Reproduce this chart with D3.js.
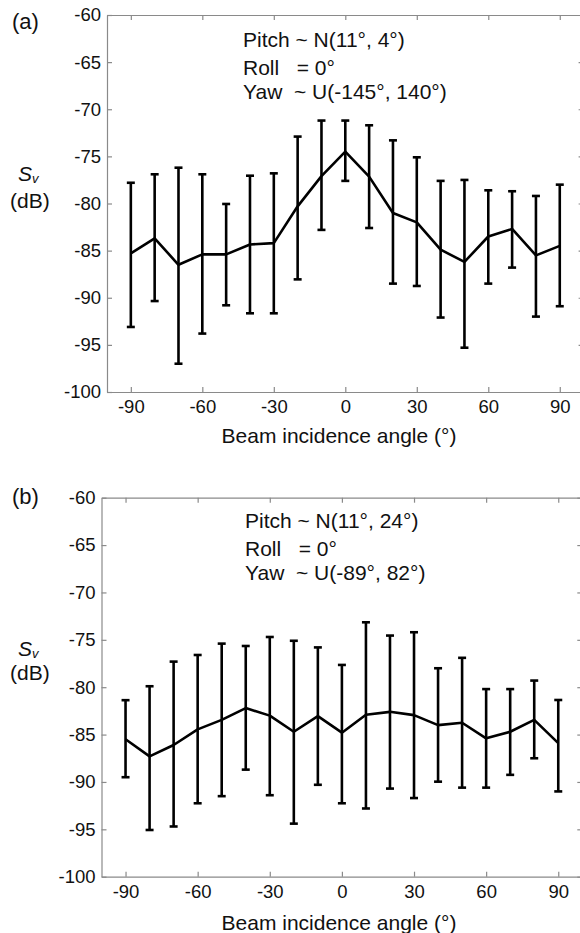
<!DOCTYPE html>
<html>
<head>
<meta charset="utf-8">
<script src="https://cdn.jsdelivr.net/npm/d3@7"></script>
<style>
  body { margin: 0; background: #fff; }
  svg { display: block; font-family: "Liberation Sans", Arial, sans-serif; }
  .legend text { white-space: pre; }
</style>
</head>
<body>
<div id="chart"></div>
<script>
// Beam incidence angles (degrees)
var angles = [-90, -80, -70, -60, -50, -40, -30, -20, -10, 0, 10, 20, 30, 40, 50, 60, 70, 80, 90];
var xTicks = [-90, -60, -30, 0, 30, 60, 90];
var yTicks = [-100, -95, -90, -85, -80, -75, -70, -65, -60];

// panel (a): Sv mean and error bar ends (dB)
var svA     = [-85.3, -83.7, -86.5, -85.4, -85.4, -84.35, -84.2, -80.3, -77.1, -74.5, -77.15, -81.0, -82.0, -84.9, -86.2, -83.5, -82.7, -85.5, -84.5];
var svAHigh = [-77.8, -76.9, -76.2, -76.9, -80.05, -77.05, -76.8, -72.9, -71.2, -71.2, -71.7, -73.3, -75.1, -77.6, -77.5, -78.6, -78.7, -79.2, -78.0];
var svALow  = [-93.1, -90.35, -97.0, -93.8, -90.8, -91.65, -91.65, -88.05, -82.8, -77.6, -82.6, -88.5, -88.75, -92.1, -95.3, -88.5, -86.8, -92.0, -90.9];

// panel (b)
var svB     = [-85.5, -87.3, -86.1, -84.45, -83.45, -82.2, -83.0, -84.7, -83.05, -84.8, -82.9, -82.6, -82.95, -84.0, -83.75, -85.4, -84.7, -83.45, -85.9];
var svBHigh = [-81.37, -79.9, -77.3, -76.6, -75.4, -75.65, -74.7, -75.1, -75.8, -77.65, -73.15, -74.55, -74.2, -78.0, -76.9, -80.2, -80.2, -79.3, -81.35];
var svBLow  = [-89.5, -95.07, -94.7, -92.25, -91.5, -88.7, -91.4, -94.4, -90.3, -92.25, -92.8, -90.7, -91.7, -89.97, -90.6, -90.6, -89.25, -87.5, -91.0];

var legendA = ["Pitch ~ N(11°, 4°)", "Roll   = 0°", "Yaw  ~ U(-145°, 140°)"];
var legendB = ["Pitch ~ N(11°, 24°)", "Roll   = 0°", "Yaw  ~ U(-89°, 82°)"];

var w = 580, h = 933;

var svg = d3.select("#chart").append("svg")
    .attr("width", w)
    .attr("height", h);

svg.append("rect").attr("width", w).attr("height", h).attr("fill", "#fff");

// plain hyphen for negatives, like the original
var fmt = d => String(d);

function drawPanel(p) {
    var g = svg.append("g");

    var x = d3.scaleLinear().domain([-100, 100]).range([p.left, p.right]);
    var y = d3.scaleLinear().domain([-100, -60]).range([p.bottom, p.top]);

    // box with inward ticks on all four sides
    g.append("g")
        .attr("transform", `translate(0,${p.bottom})`)
        .call(d3.axisBottom(x).tickValues(xTicks).tickFormat(fmt).tickSizeInner(-5).tickSizeOuter(0).tickPadding(8));
    g.append("g")
        .attr("transform", `translate(0,${p.top})`)
        .call(d3.axisTop(x).tickValues(xTicks).tickSizeInner(-5).tickSizeOuter(0).tickFormat(""));
    g.append("g")
        .attr("transform", `translate(${p.left},0)`)
        .call(d3.axisLeft(y).tickValues(yTicks).tickFormat(fmt).tickSizeInner(-5).tickSizeOuter(0).tickPadding(6));
    g.append("g")
        .attr("transform", `translate(${p.right},0)`)
        .call(d3.axisRight(y).tickValues(yTicks).tickSizeInner(-5).tickSizeOuter(0).tickFormat(""));

    g.selectAll(".domain, .tick line").attr("stroke", "#8a8a8a").attr("stroke-width", 1.2);
    g.selectAll(".tick text")
        .attr("fill", "#111")
        .style("font-size", "18.5px")
        .style("font-family", "'Liberation Sans', Arial, sans-serif");

    // error bars
    var rows = angles.map((a, i) => ({ a: a, m: p.mean[i], lo: p.low[i], hi: p.high[i] }));
    var bars = g.append("g").attr("stroke", "#000").attr("stroke-width", 2.6);
    bars.selectAll("line.v").data(rows).enter().append("line")
        .attr("x1", d => x(d.a)).attr("x2", d => x(d.a))
        .attr("y1", d => y(d.hi)).attr("y2", d => y(d.lo));
    bars.selectAll("line.hi").data(rows).enter().append("line")
        .attr("x1", d => x(d.a) - 4).attr("x2", d => x(d.a) + 4)
        .attr("y1", d => y(d.hi)).attr("y2", d => y(d.hi));
    bars.selectAll("line.lo").data(rows).enter().append("line")
        .attr("x1", d => x(d.a) - 4).attr("x2", d => x(d.a) + 4)
        .attr("y1", d => y(d.lo)).attr("y2", d => y(d.lo));

    // mean line
    g.append("path")
        .datum(rows)
        .attr("fill", "none")
        .attr("stroke", "#000")
        .attr("stroke-width", 2.6)
        .attr("stroke-linejoin", "round")
        .attr("d", d3.line().x(d => x(d.a)).y(d => y(d.m)));

    // legend text
    var leg = g.append("g").attr("class", "legend");
    leg.selectAll("text").data(p.legend).enter().append("text")
        .attr("x", p.legX)
        .attr("y", (d, i) => p.top + p.legDy[i])
        .style("font-size", "21px")
        .attr("fill", "#111")
        .text(d => d);

    // panel letter
    g.append("text").attr("x", 12).attr("y", p.letterY)
        .style("font-size", "22px").attr("fill", "#111").text(p.letter);

    // y label: S_v (dB)
    var sv = g.append("text").attr("x", 18).attr("y", p.svY)
        .style("font-size", "21px").style("font-style", "italic").attr("fill", "#111");
    sv.append("tspan").text("S");
    sv.append("tspan").attr("dy", 2).style("font-size", "13px").text("v");
    g.append("text").attr("x", 10).attr("y", p.dbY)
        .style("font-size", "21px").attr("fill", "#111").text("(dB)");

    // x title
    g.append("text").attr("x", 339).attr("y", p.bottom + p.titleDy)
        .attr("text-anchor", "middle")
        .style("font-size", "21px").attr("fill", "#111")
        .text("Beam incidence angle (°)");
}

drawPanel({
    left: 107, right: 583.6, top: 15, bottom: 392,
    mean: svA, low: svALow, high: svAHigh,
    legend: legendA, legX: 243, legDy: [32, 60, 84],
    letter: "(a)", letterY: 29, svY: 181, dbY: 208, titleDy: 50.5
});

drawPanel({
    left: 101.5, right: 582.3, top: 497.7, bottom: 876.7,
    mean: svB, low: svBLow, high: svBHigh,
    legend: legendB, legX: 245, legDy: [30.5, 58, 82],
    letter: "(b)", letterY: 504, svY: 656, dbY: 680, titleDy: 53
});
</script>
</body>
</html>
